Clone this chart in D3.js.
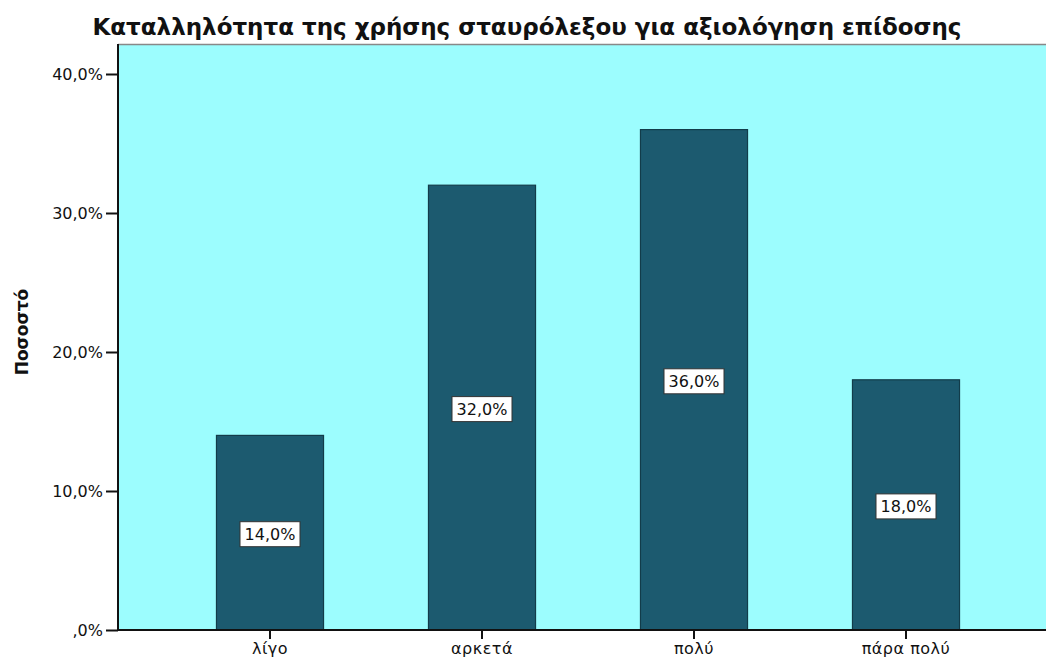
<!DOCTYPE html>
<html>
<head>
<meta charset="utf-8">
<script src="https://cdn.jsdelivr.net/npm/d3@7"></script>
<style>
  body { margin: 0; background: #fff; }
  text { font-family: "DejaVu Sans", Verdana, sans-serif; fill: #111; }
</style>
</head>
<body>
<div id="chart"></div>
<script>
// data
var categories = ['λίγο', 'αρκετά', 'πολύ', 'πάρα πολύ'];
var percents = [14.0, 32.0, 36.0, 18.0];
var yTicks = [0, 10, 20, 30, 40];
var title = 'Καταλληλότητα της χρήσης σταυρόλεξου για αξιολόγηση επίδοσης';
var yTitle = 'Ποσοστό';

var width = 1046, height = 661;
var plot = { left: 118, top: 44, right: 1046, bottom: 630 };

var fmt = function (v) {
  var s = v.toFixed(1).replace('.', ',');
  if (s.indexOf('0,') === 0) s = s.slice(1);
  return s + '%';
};

var svg = d3.select('#chart').append('svg')
  .attr('width', width)
  .attr('height', height);

var x = d3.scaleBand()
  .domain(categories)
  .range([164, 1012])
  .paddingInner(0.495)
  .paddingOuter(0.2475);

var y = d3.scaleLinear()
  .domain([0, 40])
  .range([plot.bottom, 74]);

// plot background
svg.append('rect')
  .attr('x', plot.left)
  .attr('y', plot.top)
  .attr('width', plot.right - plot.left)
  .attr('height', plot.bottom - plot.top)
  .attr('fill', '#9cfdfe');

svg.append('line')
  .attr('x1', plot.left).attr('x2', plot.right)
  .attr('y1', plot.top + 0.5).attr('y2', plot.top + 0.5)
  .attr('stroke', '#888').attr('stroke-width', 1.5);

// bars
var bars = svg.append('g').selectAll('g').data(percents).enter().append('g');

bars.append('rect')
  .attr('x', function (d, i) { return x(categories[i]); })
  .attr('y', function (d) { return y(d); })
  .attr('width', x.bandwidth())
  .attr('height', function (d) { return y(0) - y(d); })
  .attr('fill', '#1c5a6f')
  .attr('stroke', '#123c4a')
  .attr('stroke-width', 1.2);

// value labels in white boxes
bars.append('rect')
  .attr('x', function (d, i) { return x(categories[i]) + x.bandwidth() / 2 - 30; })
  .attr('y', function (d) { return (y(d) + y(0)) / 2 - 11; })
  .attr('width', 60)
  .attr('height', 25)
  .attr('fill', '#fff')
  .attr('stroke', '#333')
  .attr('stroke-width', 1);

bars.append('text')
  .attr('x', function (d, i) { return x(categories[i]) + x.bandwidth() / 2; })
  .attr('y', function (d) { return (y(d) + y(0)) / 2 + 7.5; })
  .attr('text-anchor', 'middle')
  .style('font-size', '16px')
  .text(function (d) { return fmt(d); });

// y axis
var yAxis = svg.append('g')
  .attr('transform', 'translate(' + plot.left + ',0)')
  .call(d3.axisLeft(y).tickValues(yTicks).tickSize(12).tickPadding(3).tickFormat(fmt));
yAxis.select('.domain').attr('d', 'M0,' + plot.top + 'V' + plot.bottom).attr('stroke', '#111').attr('stroke-width', 2);
yAxis.selectAll('.tick line').attr('stroke', '#111').attr('stroke-width', 2);
yAxis.selectAll('.tick text').style('font-size', '16px').attr('fill', '#222').attr('font-family', 'DejaVu Sans');

// x axis
var xAxis = svg.append('g')
  .attr('transform', 'translate(0,' + plot.bottom + ')')
  .call(d3.axisBottom(x).tickSize(9).tickPadding(4));
xAxis.select('.domain').attr('d', 'M' + plot.left + ',0H' + plot.right).attr('stroke', '#111').attr('stroke-width', 2);
xAxis.selectAll('.tick line').attr('stroke', '#111').attr('stroke-width', 2);
xAxis.selectAll('.tick text').style('font-size', '16px').style('letter-spacing', '0.5px')
  .attr('fill', '#222').attr('font-family', 'DejaVu Sans');

// titles
svg.append('text')
  .attr('x', 527)
  .attr('y', 35)
  .attr('text-anchor', 'middle')
  .style('font-size', '23px')
  .style('font-weight', 'bold')
  .text(title);

svg.append('text')
  .attr('transform', 'translate(28,332) rotate(-90)')
  .attr('text-anchor', 'middle')
  .style('font-size', '17px')
  .style('font-weight', 'bold')
  .text(yTitle);
</script>
</body>
</html>
